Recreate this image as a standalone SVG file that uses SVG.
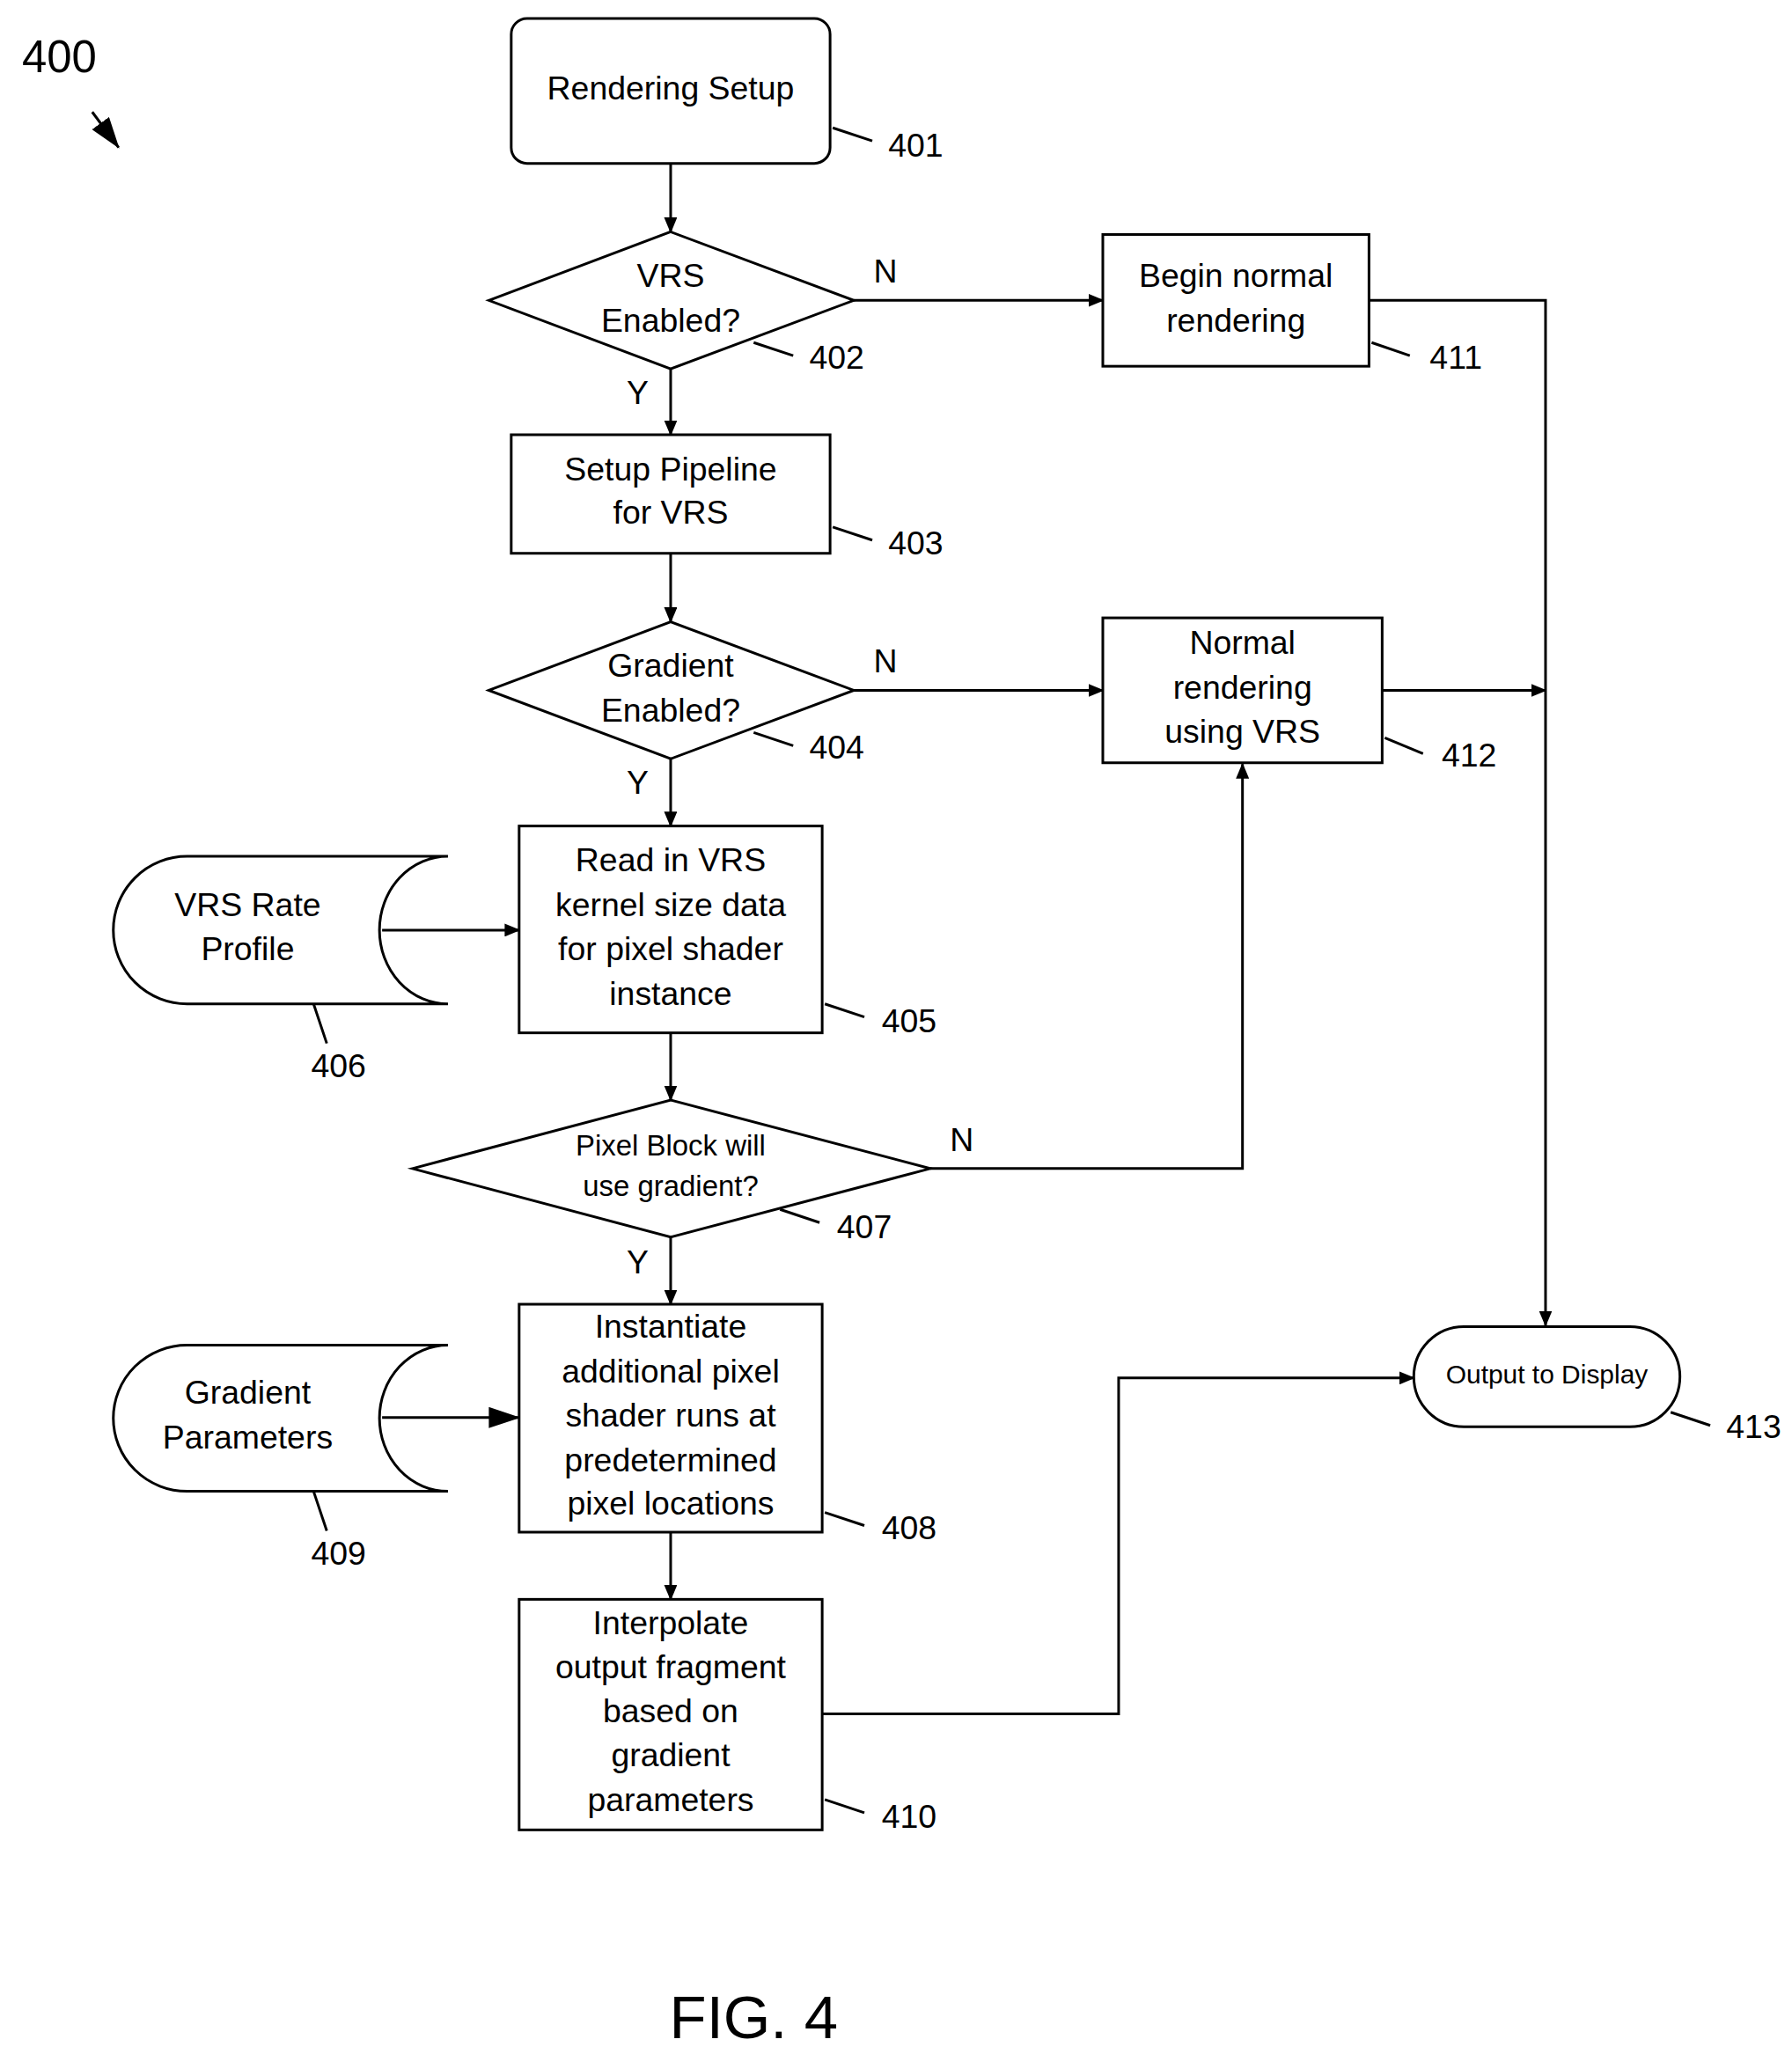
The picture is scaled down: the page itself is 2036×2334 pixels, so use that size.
<svg xmlns="http://www.w3.org/2000/svg" width="2036" height="2334" viewBox="0 0 2036 2334">
<defs>
<marker id="ah" markerWidth="12" markerHeight="10" refX="11" refY="5" orient="auto" markerUnits="userSpaceOnUse"><path d="M0,0 L12,5 L0,10 z" fill="#000"/></marker>
<marker id="ahb" markerWidth="24" markerHeight="16" refX="23" refY="8" orient="auto" markerUnits="userSpaceOnUse"><path d="M0,0 L24,8 L0,16 z" fill="#000"/></marker>
<style>
.s{fill:#fff;stroke:#000;stroke-width:2}
.l{fill:none;stroke:#000;stroke-width:2}
.t{font-family:"Liberation Sans",Arial,sans-serif;font-size:25px;text-anchor:middle;dominant-baseline:middle;fill:#000}
.n{font-family:"Liberation Sans",Arial,sans-serif;font-size:25px;text-anchor:middle;dominant-baseline:middle;fill:#000}
</style>
</defs>
<rect width="2036" height="2334" fill="#fff"/>
<g transform="scale(1.497)">
<g id="fig-label">
<text class="n" x="45" y="46" style="font-size:34px">400</text>
<line class="l" x1="70" y1="85" x2="90" y2="112" marker-end="url(#ahb)"/>
<text class="n" x="572" y="1535" style="font-size:46px">FIG. 4</text>
</g>
<g id="connectors">
<line class="l" x1="509" y1="124" x2="509" y2="176" marker-end="url(#ah)"/>
<line class="l" x1="648" y1="228" x2="837" y2="228" marker-end="url(#ah)"/>
<polyline class="l" points="1039,228 1173,228 1173,1006" marker-end="url(#ah)"/>
<line class="l" x1="509" y1="280" x2="509" y2="330" marker-end="url(#ah)"/>
<line class="l" x1="509" y1="420" x2="509" y2="472" marker-end="url(#ah)"/>
<line class="l" x1="648" y1="524" x2="837" y2="524" marker-end="url(#ah)"/>
<line class="l" x1="1049" y1="524" x2="1173" y2="524" marker-end="url(#ah)"/>
<line class="l" x1="509" y1="576" x2="509" y2="627" marker-end="url(#ah)"/>
<line class="l" x1="290" y1="706" x2="394" y2="706" marker-end="url(#ah)"/>
<line class="l" x1="509" y1="784" x2="509" y2="835" marker-end="url(#ah)"/>
<polyline class="l" points="706,887 943,887 943,580" marker-end="url(#ah)"/>
<line class="l" x1="509" y1="939" x2="509" y2="990" marker-end="url(#ah)"/>
<line class="l" x1="290" y1="1076" x2="394" y2="1076" marker-end="url(#ahb)"/>
<line class="l" x1="509" y1="1163" x2="509" y2="1214" marker-end="url(#ah)"/>
<polyline class="l" points="624,1301 849,1301 849,1046 1073,1046" marker-end="url(#ah)"/>
<text class="n" x="672" y="208">N</text>
<text class="n" x="484" y="300">Y</text>
<text class="n" x="672" y="504">N</text>
<text class="n" x="484" y="596">Y</text>
<text class="n" x="730" y="867">N</text>
<text class="n" x="484" y="960">Y</text>
</g>
<g id="n401">
<rect class="s" x="388" y="14" width="242" height="110" rx="12"/>
<text class="t" x="509" y="69">Rendering Setup</text>
<line class="l" x1="632" y1="97" x2="662" y2="107"/><text class="n" x="695" y="112">401</text>
</g>
<g id="n402">
<polygon class="s" points="371,228 509,176 648,228 509,280"/>
<text class="t" x="509" y="211">VRS</text><text class="t" x="509" y="245">Enabled?</text>
<line class="l" x1="572" y1="260" x2="602" y2="270"/><text class="n" x="635" y="273">402</text>
</g>
<g id="n411">
<rect class="s" x="837" y="178" width="202" height="100"/>
<text class="t" x="938" y="211">Begin normal</text><text class="t" x="938" y="245">rendering</text>
<line class="l" x1="1041" y1="260" x2="1070" y2="270"/><text class="n" x="1105" y="273">411</text>
</g>
<g id="n403">
<rect class="s" x="388" y="330" width="242" height="90"/>
<text class="t" x="509" y="358">Setup Pipeline</text><text class="t" x="509" y="391">for VRS</text>
<line class="l" x1="632" y1="400" x2="662" y2="410"/><text class="n" x="695" y="414">403</text>
</g>
<g id="n404">
<polygon class="s" points="371,524 509,472 648,524 509,576"/>
<text class="t" x="509" y="507">Gradient</text><text class="t" x="509" y="541">Enabled?</text>
<line class="l" x1="572" y1="556" x2="602" y2="566"/><text class="n" x="635" y="569">404</text>
</g>
<g id="n412">
<rect class="s" x="837" y="469" width="212" height="110"/>
<text class="t" x="943" y="490">Normal</text><text class="t" x="943" y="524">rendering</text><text class="t" x="943" y="557">using VRS</text>
<line class="l" x1="1051" y1="560" x2="1080" y2="572"/><text class="n" x="1115" y="575">412</text>
</g>
<g id="n405">
<rect class="s" x="394" y="627" width="230" height="157"/>
<text class="t" x="509" y="655">Read in VRS</text><text class="t" x="509" y="689">kernel size data</text><text class="t" x="509" y="722">for pixel shader</text><text class="t" x="509" y="756">instance</text>
<line class="l" x1="626" y1="762" x2="656" y2="772"/><text class="n" x="690" y="777">405</text>
</g>
<g id="n406">
<path class="s" d="M340,650 H142 A56,56 0 0 0 142,762 H340 A52,56 0 0 1 340,650"/>
<text class="t" x="188" y="689">VRS Rate</text><text class="t" x="188" y="722">Profile</text>
<line class="l" x1="238" y1="762" x2="248" y2="792"/><text class="n" x="257" y="811">406</text>
</g>
<g id="n407">
<polygon class="s" points="313,887 509,835 706,887 509,939"/>
<text class="t" x="509" y="871" style="font-size:22px">Pixel Block will</text><text class="t" x="509" y="902" style="font-size:22px">use gradient?</text>
<line class="l" x1="592" y1="918" x2="622" y2="928"/><text class="n" x="656" y="933">407</text>
</g>
<g id="n408">
<rect class="s" x="394" y="990" width="230" height="173"/>
<text class="t" x="509" y="1009">Instantiate</text><text class="t" x="509" y="1043">additional pixel</text><text class="t" x="509" y="1076">shader runs at</text><text class="t" x="509" y="1110">predetermined</text><text class="t" x="509" y="1143">pixel locations</text>
<line class="l" x1="626" y1="1148" x2="656" y2="1158"/><text class="n" x="690" y="1162">408</text>
</g>
<g id="n409">
<path class="s" d="M340,1021 H142 A56,55.5 0 0 0 142,1132 H340 A52,55.5 0 0 1 340,1021"/>
<text class="t" x="188" y="1059">Gradient</text><text class="t" x="188" y="1093">Parameters</text>
<line class="l" x1="238" y1="1132" x2="248" y2="1162"/><text class="n" x="257" y="1181">409</text>
</g>
<g id="n410">
<rect class="s" x="394" y="1214" width="230" height="175"/>
<text class="t" x="509" y="1234">Interpolate</text><text class="t" x="509" y="1267">output fragment</text><text class="t" x="509" y="1301">based on</text><text class="t" x="509" y="1334">gradient</text><text class="t" x="509" y="1368">parameters</text>
<line class="l" x1="626" y1="1366" x2="656" y2="1376"/><text class="n" x="690" y="1381">410</text>
</g>
<g id="n413">
<rect class="s" x="1073" y="1007" width="202" height="76" rx="38"/>
<text class="t" x="1174" y="1045" style="font-size:20px">Output to Display</text>
<line class="l" x1="1268" y1="1072" x2="1298" y2="1082"/><text class="n" x="1331" y="1085">413</text>
</g>
</g>
</svg>
